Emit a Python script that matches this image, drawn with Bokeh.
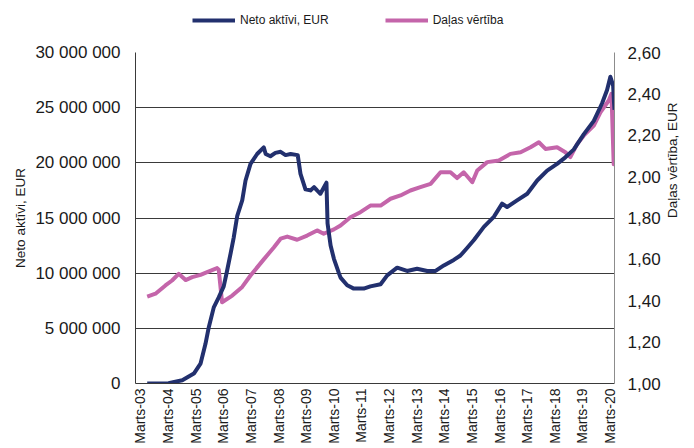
from bokeh.plotting import figure
from bokeh.models import (Range1d, LinearAxis, FixedTicker, CustomJSTickFormatter,
                          Legend, LegendItem, ColumnDataSource)
from bokeh.layouts import column
from bokeh.embed import file_html
from bokeh.resources import INLINE

# ---- data (decimal years) ----
net_years = [2003.41, 2004.18, 2004.68, 2005.10, 2005.34, 2005.52, 2005.64, 2005.82, 2006.00,
             2006.18, 2006.30, 2006.43, 2006.54, 2006.67, 2006.85, 2006.97, 2007.15, 2007.39,
             2007.63, 2007.70, 2007.87, 2008.05, 2008.24, 2008.42, 2008.60, 2008.86, 2008.96,
             2009.14, 2009.32, 2009.45, 2009.56, 2009.68, 2009.90, 2009.94, 2010.05, 2010.17,
             2010.35, 2010.41, 2010.65, 2010.89, 2011.25, 2011.49, 2011.86, 2012.10, 2012.46,
             2012.82, 2013.18, 2013.55, 2013.85, 2014.15, 2014.51, 2014.75, 2015.00, 2015.24,
             2015.60, 2015.96, 2016.26, 2016.44, 2016.80, 2017.17, 2017.53, 2017.89, 2018.25,
             2018.55, 2018.85, 2019.22, 2019.58, 2019.88, 2020.06, 2020.18, 2020.28, 2020.31,
             2020.33]
net_assets = [0.0, 0.03, 0.3, 0.9, 1.8, 3.6, 5.1, 6.9, 7.8,
              8.8, 10.2, 11.8, 13.2, 15.2, 16.6, 18.4, 19.9, 20.8,
              21.4, 20.8, 20.6, 20.9, 21.0, 20.7, 20.8, 20.7, 19.0,
              17.6, 17.5, 17.8, 17.5, 17.2, 18.2, 14.5, 12.5, 11.3,
              10.0, 9.6, 8.9, 8.6, 8.6, 8.8, 9.0, 9.8, 10.5,
              10.2, 10.4, 10.2, 10.2, 10.7, 11.2, 11.6, 12.3, 13.0,
              14.2, 15.1, 16.3, 16.0, 16.6, 17.2, 18.4, 19.3, 19.9,
              20.5, 21.2, 22.6, 23.8, 25.4, 26.6, 27.8, 27.0, 25.5,
              24.8]
net_assets = [v * 1_000_000 for v in net_assets]

nav_years = [2003.41, 2003.71, 2004.07, 2004.31, 2004.55, 2004.80, 2005.04, 2005.34, 2005.58,
             2005.94, 2006.00, 2006.12, 2006.49, 2006.85, 2007.15, 2007.63, 2008.00, 2008.24,
             2008.48, 2008.84, 2009.20, 2009.56, 2009.80, 2010.17, 2010.41, 2010.77, 2011.13,
             2011.49, 2011.86, 2012.22, 2012.58, 2012.94, 2013.30, 2013.67, 2014.03, 2014.39,
             2014.63, 2014.87, 2015.18, 2015.36, 2015.72, 2016.14, 2016.56, 2016.93, 2017.29,
             2017.59, 2017.83, 2018.25, 2018.55, 2018.73, 2018.98, 2019.22, 2019.58, 2019.82,
             2020.12, 2020.22, 2020.30, 2020.33]
nav_values = [1.42, 1.434, 1.474, 1.498, 1.53, 1.50, 1.514, 1.525, 1.538,
              1.558, 1.55, 1.393, 1.425, 1.467, 1.522, 1.60, 1.659, 1.70,
              1.71, 1.695, 1.715, 1.74, 1.724, 1.745, 1.764, 1.804, 1.828,
              1.86, 1.86, 1.893, 1.909, 1.933, 1.949, 1.965, 2.021, 2.021,
              1.993, 2.021, 1.973, 2.03, 2.07, 2.078, 2.11, 2.118, 2.142,
              2.166, 2.134, 2.142, 2.118, 2.094, 2.158, 2.199, 2.247, 2.311,
              2.368, 2.40, 2.06, 2.10]

tick_years = list(range(2003, 2021))
tick_labels = ["Marts-%02d" % (y % 100) for y in tick_years]
left_ticks = [0, 5_000_000, 10_000_000, 15_000_000, 20_000_000, 25_000_000, 30_000_000]
right_ticks = [1.0, 1.2, 1.4, 1.6, 1.8, 2.0, 2.2, 2.4, 2.6]

series_names = ["Neto aktīvi, EUR", "Daļas vērtība"]
left_label = "Neto aktīvi, EUR"
right_label = "Daļas vērtība, EUR"

BLUE = "#22306E"
PINK = "#C465AA"
FONT = "Liberation Sans"
TXT = "#1a1a1a"

march = 2.0 / 12.0
x_ticks = [y + march for y in tick_years]

src_net = ColumnDataSource(dict(x=net_years, y=net_assets))
src_nav = ColumnDataSource(dict(x=nav_years, y=nav_values))

# ---------- legend strip (separate small figure on top, frame aligned with chart) ----------
leg = figure(width=694, height=40, output_backend="svg", toolbar_location=None,
             x_axis_type=None, y_axis_type=None,
             x_range=Range1d(0, 1), y_range=Range1d(0, 1),
             min_border_left=0, min_border_right=0, min_border_top=0, min_border_bottom=0)
leg.outline_line_color = None
leg.background_fill_color = "white"
leg.border_fill_color = "white"
# same series, drawn outside this strip's visible range: only their legend glyphs show
l_net = leg.line("x", "y", source=src_net, line_color=BLUE, line_width=4)
l_nav = leg.line("x", "y", source=src_nav, line_color=PINK, line_width=4)
legend = Legend(items=[LegendItem(label=series_names[0], renderers=[l_net]),
                       LegendItem(label=series_names[1], renderers=[l_nav])],
                orientation="horizontal", location=(57, 10),
                padding=0, margin=0, spacing=56, glyph_width=43, glyph_height=20,
                label_height=20, label_standoff=5, label_text_font=FONT,
                label_text_font_size="12px", label_text_color=TXT,
                border_line_color=None, background_fill_alpha=0)
leg.add_layout(legend, "center")

# ---------- main chart ----------
p = figure(width=694, height=408, output_backend="svg", toolbar_location=None,
           x_range=Range1d(2002.986, 2020.329), y_range=Range1d(0, 30_000_000),
           min_border_left=135, min_border_right=80, min_border_top=12,
           min_border_bottom=65)
p.extra_y_ranges = {"nav": Range1d(1.0, 2.6)}
p.outline_line_color = None
p.background_fill_color = "white"
p.border_fill_color = "white"

xa = p.xaxis[0]
xa.ticker = FixedTicker(ticks=x_ticks)
xa.major_label_overrides = {t: l for t, l in zip(x_ticks, tick_labels)}
xa.major_label_orientation = 1.5707963
xa.major_label_text_font = FONT
xa.major_label_text_font_size = "14px"
xa.major_label_text_color = TXT
xa.major_label_standoff = 5
xa.major_tick_out = 0
xa.major_tick_in = 0
xa.minor_tick_out = 0
xa.minor_tick_in = 0
xa.axis_line_color = "#3a3a3a"

ya = p.yaxis[0]
ya.ticker = FixedTicker(ticks=left_ticks)
ya.formatter = CustomJSTickFormatter(code="""
return Math.round(tick).toString().replace(/\\B(?=(\\d{3})+(?!\\d))/g, ' ');
""")
ya.major_label_text_font = FONT
ya.major_label_text_font_size = "17px"
ya.major_label_text_color = TXT
ya.major_label_standoff = 15
ya.major_tick_out = 0
ya.major_tick_in = 0
ya.minor_tick_out = 0
ya.minor_tick_in = 0
ya.axis_line_color = "#3a3a3a"
ya.axis_label = left_label
ya.axis_label_text_font = FONT
ya.axis_label_text_font_size = "13.5px"
ya.axis_label_text_font_style = "normal"
ya.axis_label_text_color = TXT
ya.axis_label_standoff = 4

ra = LinearAxis(y_range_name="nav", ticker=FixedTicker(ticks=right_ticks),
                formatter=CustomJSTickFormatter(code="return tick.toFixed(2).replace('.', ',');"))
ra.major_label_text_font = FONT
ra.major_label_text_font_size = "17px"
ra.major_label_text_color = TXT
ra.major_label_standoff = 13
ra.major_tick_out = 0
ra.major_tick_in = 0
ra.minor_tick_out = 0
ra.minor_tick_in = 0
ra.axis_line_color = "#8c8c8c"
ra.axis_label = right_label
ra.axis_label_text_font = FONT
ra.axis_label_text_font_size = "13.5px"
ra.axis_label_text_font_style = "normal"
ra.axis_label_text_color = TXT
ra.axis_label_standoff = 9
try:
    ra.axis_label_orientation = 1.5707963
except Exception:
    pass
p.add_layout(ra, "right")

p.xgrid.grid_line_color = None
p.ygrid.ticker = FixedTicker(ticks=left_ticks)
p.ygrid.grid_line_color = "#3a3a3a"
p.ygrid.grid_line_width = 1

p.line("x", "y", source=src_nav, y_range_name="nav", line_color=PINK,
       line_width=4, line_join="round")
p.line("x", "y", source=src_net, line_color=BLUE, line_width=4, line_join="round")

layout = column(leg, p, spacing=0)
open("out.html", "w").write(file_html(layout, INLINE))
